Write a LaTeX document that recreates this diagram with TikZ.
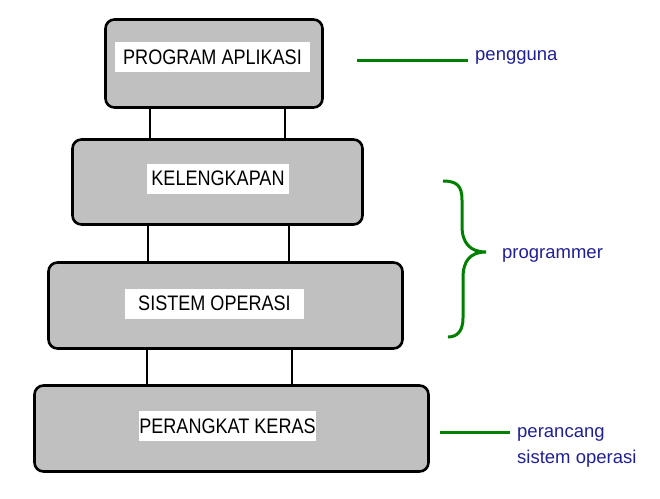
\documentclass[tikz,border=0pt]{standalone}
\usepackage{fontspec}
\setmainfont{Liberation Sans}
\newfontfamily\layerfont[FakeStretch=0.86]{Liberation Sans}
\usepackage{xcolor}
\usepackage{tikz}
\usetikzlibrary{positioning,calc}
\definecolor{layergray}{RGB}{192,192,192}
\definecolor{notegreen}{RGB}{0,128,0}
\definecolor{noteblue}{RGB}{32,32,150}
\tikzset{
  layer/.style={draw, line width=2.6pt, fill=layergray, rounded corners=9pt, inner sep=0pt},
  tag/.style={fill=white, inner sep=0pt, minimum height=30pt, font=\layerfont\fontsize{21}{24}\selectfont},
  link/.style={line width=2pt},
  guide/.style={draw=notegreen, line width=3pt},
  note/.style={text=noteblue, inner sep=0pt, align=left, font=\fontsize{18.5}{26}\selectfont}
}

\begin{document}
\begin{tikzpicture}[x=1pt, y=-1pt]
    \useasboundingbox (0,0) rectangle (660,498);
    \node[layer, minimum width=217pt, minimum height=88pt] (app) at (214,63.5) {};
    \node[tag, minimum width=195pt] (appt) at (212.5,57) {PROGRAM APLIKASI};
    \node[layer, minimum width=290pt, minimum height=85pt] (tools) at (217.5,182) {};
    \node[tag, minimum width=142pt] (toolst) at (218,178.5) {KELENGKAPAN};
    \node[layer, minimum width=354pt, minimum height=86pt] (os) at (225.5,305.5) {};
    \node[tag, minimum width=179pt] (ost) at (214.5,303.5) {SISTEM OPERASI};
    \node[layer, minimum width=394pt, minimum height=86pt] (hw) at (231.5,428.5) {};
    \node[tag, minimum width=175pt] (hwt) at (227.5,426) {PERANGKAT KERAS};
    \draw[link] (app.south -| 150,0) -- (tools.north -| 150,0);
    \draw[link] (app.south -| 285,0) -- (tools.north -| 285,0);
    \draw[link] (tools.south -| 148,0) -- (os.north -| 148,0);
    \draw[link] (tools.south -| 289,0) -- (os.north -| 289,0);
    \draw[link] (os.south -| 147,0) -- (hw.north -| 147,0);
    \draw[link] (os.south -| 292,0) -- (hw.north -| 292,0);
    \coordinate (u0) at (357,60);
    \node[note, anchor=base west] (user) at (475,60) {pengguna};
    \draw[guide, shorten >=7pt] (u0) -- (user.base west);
    \coordinate (b0) at (443,181);
    \coordinate (b1) at (448,337);
    \coordinate (tip) at (486,252);
    \draw[guide] (b0) .. controls (457,181) and (462,186) .. (462,200) -- (462,226)
      .. controls (462,243) and (470,252) .. (tip)
      .. controls (470,252) and (463,261) .. (463,278) -- (463,318)
      .. controls (463,330) and (458,337) .. (b1);
    \node[note, anchor=base west] (prog) at (502,258) {programmer};
    \coordinate (d0) at (440,432);
    \node[note, anchor=base west] (desg) at (517,463) {perancang\\sistem operasi};
    \draw[guide, shorten >=7pt] (d0) -- (d0 -| desg.west);
\end{tikzpicture}
\end{document}
